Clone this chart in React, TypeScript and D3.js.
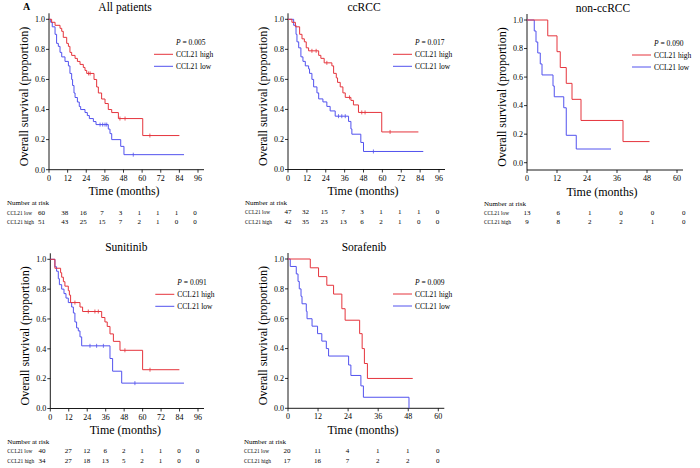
import React from "react";
import * as d3 from "d3";

// ---------- data ----------
const panelTitles = ["All patients", "ccRCC", "non-ccRCC", "Sunitinib", "Sorafenib"];
const pValues = ["0.005", "0.017", "0.090", "0.091", "0.009"];
const xMaxMonths = [96, 96, 60, 96, 60];
const seriesNames = ["CCL21 high", "CCL21 low"];
const yTicks = [0, 0.2, 0.4, 0.6, 0.8, 1.0];

// All patients
const allHighTimes = [1.7, 3.9, 7.1, 8.2, 9.2, 11.4, 12.5, 13.5, 14.6, 16.8, 18.3, 20.0, 22.1, 23.2, 24.3, 29.0, 30.7, 31.8, 33.9, 36.1, 38.2, 40.4, 44.7, 60.4];
const allHighSurv = [0.98, 0.96, 0.94, 0.92, 0.88, 0.84, 0.82, 0.78, 0.76, 0.74, 0.72, 0.70, 0.68, 0.66, 0.64, 0.60, 0.55, 0.51, 0.47, 0.44, 0.40, 0.38, 0.34, 0.227];
const allHighCensor = [25.5, 26.5, 45.7, 49, 65];
const allHighEnd = 84;
const allLowTimes = [1.1, 2.1, 3.9, 4.9, 6.0, 7.1, 8.2, 10.3, 12.5, 13.5, 14.6, 15.2, 16.1, 16.8, 18.3, 19.5, 20.4, 23.2, 24.7, 26.0, 28.6, 30.3, 38.2, 39.3, 40.4, 46.2, 48.3];
const allLowSurv = [0.98, 0.95, 0.90, 0.84, 0.82, 0.78, 0.75, 0.72, 0.69, 0.64, 0.60, 0.56, 0.51, 0.48, 0.45, 0.42, 0.40, 0.38, 0.36, 0.34, 0.32, 0.30, 0.27, 0.24, 0.20, 0.155, 0.10];
const allLowCensor = [32.9, 34.6, 36.1, 37.2, 54.3];
const allLowEnd = 87;
const allRiskLow = ["60", "38", "16", "7", "3", "1", "1", "1", "0"];
const allRiskHigh = ["51", "43", "25", "15", "7", "2", "1", "0", "0"];

// ccRCC
const ccHighTimes = [2.5, 4.7, 7.4, 8.9, 10.4, 11.6, 13.1, 19.5, 20.9, 23.0, 27.9, 29.0, 30.7, 31.5, 33.2, 34.9, 36.4, 40.0, 41.6, 44.8, 59.6];
const ccHighSurv = [0.98, 0.95, 0.90, 0.87, 0.85, 0.81, 0.79, 0.76, 0.74, 0.71, 0.69, 0.64, 0.61, 0.58, 0.55, 0.51, 0.48, 0.46, 0.43, 0.38, 0.25];
const ccHighCensor = [15.2, 17.9, 24.7, 39.1, 46.9, 49, 64.9];
const ccHighEnd = 82.9;
const ccLowTimes = [3.6, 5.1, 5.7, 6.8, 8.2, 9.5, 11.0, 13.1, 13.7, 15.2, 16.3, 18.4, 19.5, 22.2, 24.7, 26.8, 30.0, 38.5, 40.0, 40.6, 46.3, 48.0];
const ccLowSurv = [0.96, 0.90, 0.85, 0.81, 0.75, 0.72, 0.69, 0.67, 0.64, 0.60, 0.55, 0.51, 0.47, 0.45, 0.42, 0.39, 0.355, 0.32, 0.27, 0.235, 0.18, 0.12];
const ccLowCensor = [32.1, 34.2, 36.4, 54.3];
const ccLowEnd = 86;
const ccRiskLow = ["47", "32", "15", "7", "3", "1", "1", "1", "0"];
const ccRiskHigh = ["42", "35", "23", "13", "6", "2", "1", "0", "0"];

// non-ccRCC
const nonHighTimes = [8.3, 12.0, 13.3, 15.7, 18.0, 21.6, 38.4];
const nonHighSurv = [0.889, 0.778, 0.667, 0.556, 0.444, 0.296, 0.148];
const nonHighCensor: number[] = [];
const nonHighEnd = 49;
const nonLowTimes = [2.9, 3.6, 4.3, 5.3, 6.0, 10.4, 10.9, 14.7, 15.7, 19.7];
const nonLowSurv = [0.923, 0.846, 0.769, 0.692, 0.615, 0.538, 0.462, 0.385, 0.192, 0.096];
const nonLowCensor: number[] = [];
const nonLowEnd = 33.6;
const nonRiskLow = ["13", "6", "1", "0", "0", "0"];
const nonRiskHigh = ["9", "8", "2", "2", "1", "0"];

// Sunitinib
const sunHighTimes = [3.0, 6.7, 7.4, 8.5, 9.5, 11.7, 12.4, 13.2, 19.3, 21.0, 33.4, 35.5, 37.0, 38.8, 41.0, 45.3, 60.0];
const sunHighSurv = [0.94, 0.91, 0.88, 0.85, 0.82, 0.79, 0.76, 0.71, 0.68, 0.65, 0.61, 0.58, 0.55, 0.50, 0.45, 0.39, 0.26];
const sunHighCensor = [16, 24.7, 29, 31.2, 48.5, 64.8];
const sunHighEnd = 83.9;
const sunLowTimes = [3.0, 4.1, 5.2, 5.9, 7.4, 8.9, 10.2, 11.7, 13.9, 15.0, 16.0, 17.1, 18.2, 19.3, 20.4, 38.8, 40.5, 46.4];
const sunLowSurv = [0.95, 0.92, 0.87, 0.83, 0.80, 0.77, 0.74, 0.71, 0.68, 0.64, 0.58, 0.54, 0.52, 0.48, 0.42, 0.335, 0.25, 0.17];
const sunLowCensor = [25.8, 30.1, 34.5, 55];
const sunLowEnd = 86.9;
const sunRiskLow = ["40", "27", "12", "6", "2", "1", "1", "0", "0"];
const sunRiskHigh = ["34", "27", "18", "13", "5", "2", "1", "0", "0"];

// Sorafenib
const sorHighTimes = [8.9, 12.2, 15.5, 18.2, 21.5, 22.8, 28.6, 29.6, 30.5, 31.7];
const sorHighSurv = [0.941, 0.882, 0.824, 0.765, 0.667, 0.59, 0.50, 0.40, 0.30, 0.20];
const sorHighCensor: number[] = [];
const sorHighEnd = 49.8;
const sorLowTimes = [0.9, 3.3, 4.0, 4.5, 5.2, 5.6, 7.3, 7.6, 9.6, 11.8, 13.5, 15.3, 16.2, 24.2, 25.1, 29.1, 30.1, 48.3];
const sorLowSurv = [0.95, 0.90, 0.85, 0.80, 0.75, 0.70, 0.65, 0.60, 0.55, 0.50, 0.45, 0.40, 0.35, 0.29, 0.22, 0.15, 0.074, 0];
const sorLowCensor: number[] = [];
const sorLowEnd = 48.3;
const sorRiskLow = ["20", "11", "4", "1", "1", "0"];
const sorRiskHigh = ["17", "16", "7", "2", "2", "0"];

// ---------- styling / layout ----------
const RED = "#e5343c";
const BLUE = "#5252ee";
const FONT = "'Liberation Serif', 'Times New Roman', serif";

type Curve = { times: number[]; surv: number[]; censor: number[]; end: number };
type PanelData = {
  title: string; p: string; xMax: number;
  high: Curve; low: Curve; riskLow: string[]; riskHigh: string[];
};

const panels: PanelData[] = [
  { title: panelTitles[0], p: pValues[0], xMax: xMaxMonths[0],
    high: { times: allHighTimes, surv: allHighSurv, censor: allHighCensor, end: allHighEnd },
    low: { times: allLowTimes, surv: allLowSurv, censor: allLowCensor, end: allLowEnd },
    riskLow: allRiskLow, riskHigh: allRiskHigh },
  { title: panelTitles[1], p: pValues[1], xMax: xMaxMonths[1],
    high: { times: ccHighTimes, surv: ccHighSurv, censor: ccHighCensor, end: ccHighEnd },
    low: { times: ccLowTimes, surv: ccLowSurv, censor: ccLowCensor, end: ccLowEnd },
    riskLow: ccRiskLow, riskHigh: ccRiskHigh },
  { title: panelTitles[2], p: pValues[2], xMax: xMaxMonths[2],
    high: { times: nonHighTimes, surv: nonHighSurv, censor: nonHighCensor, end: nonHighEnd },
    low: { times: nonLowTimes, surv: nonLowSurv, censor: nonLowCensor, end: nonLowEnd },
    riskLow: nonRiskLow, riskHigh: nonRiskHigh },
  { title: panelTitles[3], p: pValues[3], xMax: xMaxMonths[3],
    high: { times: sunHighTimes, surv: sunHighSurv, censor: sunHighCensor, end: sunHighEnd },
    low: { times: sunLowTimes, surv: sunLowSurv, censor: sunLowCensor, end: sunLowEnd },
    riskLow: sunRiskLow, riskHigh: sunRiskHigh },
  { title: panelTitles[4], p: pValues[4], xMax: xMaxMonths[4],
    high: { times: sorHighTimes, surv: sorHighSurv, censor: sorHighCensor, end: sorHighEnd },
    low: { times: sorLowTimes, surv: sorLowSurv, censor: sorLowCensor, end: sorLowEnd },
    riskLow: sorRiskLow, riskHigh: sorRiskHigh },
];

// layout per panel (pixel frame)
const layouts = [
  { x0: 49, x1: 198, yTop: 19.3, yBot: 169.7, axisY: 169.7, labelX: 7, firstCol: 41.5, colShift: -3, colStretch: 1 },
  { x0: 288, x1: 439, yTop: 19.3, yBot: 169.5, axisY: 169.5, labelX: 245, firstCol: 288, colShift: -1.5, colStretch: 1 },
  { x0: 527, x1: 677, yTop: 20, yBot: 162.7, axisY: 170, labelX: 484, firstCol: 527, colShift: 0, colStretch: 1.045 },
  { x0: 50.3, x1: 198, yTop: 259.3, yBot: 408.5, axisY: 408.5, labelX: 7.3, firstCol: 42, colShift: -0.5, colStretch: 1 },
  { x0: 288, x1: 438.3, yTop: 259, yBot: 408.3, axisY: 408.3, labelX: 244, firstCol: 287, colShift: -0.5, colStretch: 1 },
];

function curvePoints(c: Curve): [number, number][] {
  const pts: [number, number][] = [[0, 1]];
  c.times.forEach((t, i) => pts.push([t, c.surv[i]]));
  pts.push([c.end, c.surv[c.surv.length - 1]]);
  return pts;
}

function survAt(c: Curve, t: number): number {
  let s = 1;
  c.times.forEach((ti, i) => { if (ti <= t) s = c.surv[i]; });
  return s;
}

function Panel({ d, L }: { d: PanelData; L: typeof layouts[0] }) {
  const x = d3.scaleLinear().domain([0, d.xMax]).range([L.x0, L.x1]);
  const y = d3.scaleLinear().domain([0, 1]).range([L.yBot, L.yTop]);
  const line = d3.line<[number, number]>().x(p => x(p[0])).y(p => y(p[1])).curve(d3.curveStepAfter);
  const xTicks = d3.range(0, d.xMax + 1, 12);
  const series: { c: Curve; color: string }[] = [
    { c: d.low, color: BLUE },
    { c: d.high, color: RED },
  ];
  const colX = (i: number) =>
    i === 0 ? L.firstCol : L.x0 + (x(xTicks[i]) - L.x0) * L.colStretch + L.colShift;
  const midY = (L.yTop + L.axisY) / 2 + 2;
  const lx = L.x0 + 105;
  return (
    <g fontFamily={FONT} fill="#000">
      {/* title */}
      <text x={L.x0 + 76} y={L.yTop - 8.5} fontSize={11.5} textAnchor="middle">{d.title}</text>
      {/* axes */}
      <line x1={L.x0} x2={L.x0} y1={L.yTop - 6} y2={L.axisY} stroke="#000" strokeWidth={0.9} />
      <line x1={L.x0} x2={L.x1 + 6} y1={L.axisY} y2={L.axisY} stroke="#000" strokeWidth={0.9} />
      {yTicks.map(t => (
        <g key={"y" + t}>
          <line x1={L.x0 - 3} x2={L.x0} y1={y(t)} y2={y(t)} stroke="#000" strokeWidth={0.8} />
          <text x={L.x0 - 4} y={y(t) + 2.8} fontSize={8} textAnchor="end">{t.toFixed(1)}</text>
        </g>
      ))}
      {xTicks.map(t => (
        <g key={"x" + t}>
          <line x1={x(t)} x2={x(t)} y1={L.axisY} y2={L.axisY + 3} stroke="#000" strokeWidth={0.8} />
          <text x={x(t)} y={L.axisY + 11} fontSize={8} textAnchor="middle">{t}</text>
        </g>
      ))}
      <text x={L.x0 + 75} y={L.axisY + 25.5} fontSize={12} textAnchor="middle">Time (months)</text>
      <text transform={`translate(${L.x0 - 21.5},${midY}) rotate(-90)`} fontSize={12} textAnchor="middle">
        Overall survival (proportion)
      </text>
      {/* curves */}
      {series.map(({ c, color }, si) => (
        <g key={si}>
          <path d={line(curvePoints(c)) || ""} fill="none" stroke={color} strokeWidth={1} />
          {c.censor.map((t, ci) => (
            <line key={ci} x1={x(t)} x2={x(t)} y1={y(survAt(c, t)) - 2} y2={y(survAt(c, t)) + 2}
              stroke={color} strokeWidth={0.8} />
          ))}
        </g>
      ))}
      {/* legend */}
      <text x={L.x0 + 127} y={L.yTop + 26} fontSize={7.5}>
        <tspan fontStyle="italic">P</tspan> = {d.p}
      </text>
      {seriesNames.map((n, i) => (
        <g key={n}>
          <line x1={lx} x2={lx + 19} y1={L.yTop + 35 + i * 12} y2={L.yTop + 35 + i * 12}
            stroke={i === 0 ? RED : BLUE} strokeWidth={1} />
          <text x={L.x0 + 127} y={L.yTop + 37.7 + i * 12} fontSize={7.5}>{n}</text>
        </g>
      ))}
      {/* risk table */}
      <text x={L.labelX} y={L.axisY + 35.7} fontSize={7}>Number at risk</text>
      <text x={L.labelX} y={L.axisY + 44.8} fontSize={6.5} textLength={25} lengthAdjust="spacingAndGlyphs">CCL21 low</text>
      <text x={L.labelX} y={L.axisY + 54.4} fontSize={6.5} textLength={27} lengthAdjust="spacingAndGlyphs">CCL21 high</text>
      {d.riskLow.map((v, i) => (
        <text key={"l" + i} x={colX(i)} y={L.axisY + 44.8} fontSize={7} textAnchor="middle">{v}</text>
      ))}
      {d.riskHigh.map((v, i) => (
        <text key={"h" + i} x={colX(i)} y={L.axisY + 54.4} fontSize={7} textAnchor="middle">{v}</text>
      ))}
    </g>
  );
}

export default function App() {
  return (
    <svg width={700} height={468} style={{ position: "absolute", left: 0, top: 0, background: "#fff" }}>
      <rect width={700} height={468} fill="#fff" />
      <text x={23} y={10} fontFamily={FONT} fontWeight="bold" fontSize={10}>A</text>
      {panels.map((p, i) => <Panel key={i} d={p} L={layouts[i]} />)}
    </svg>
  );
}
